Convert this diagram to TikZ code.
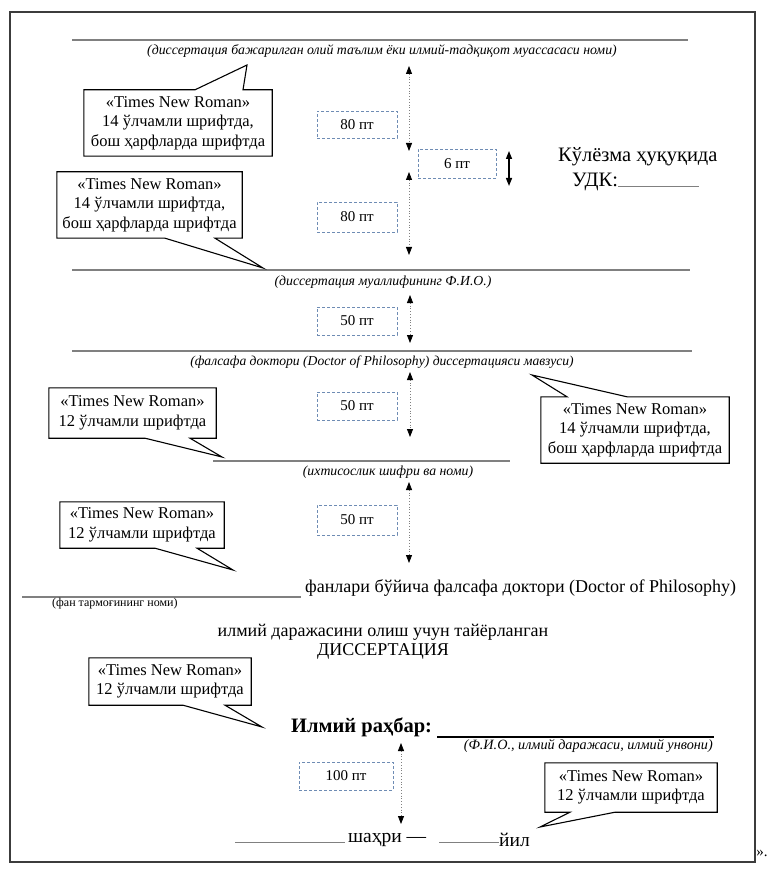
\documentclass[tikz,border=0pt]{standalone}
\usepackage{fontspec}
\setmainfont{Liberation Serif}
\usetikzlibrary{arrows.meta,calc}
\definecolor{rulegray}{RGB}{128,128,128}
\definecolor{dashblue}{RGB}{110,140,180}
\definecolor{framegray}{RGB}{60,60,60}
\begin{document}
\begin{tikzpicture}[x=1pt,y=-1pt,
  ctext/.style={align=center, inner sep=0pt, font=\fontsize{16.5}{19.5}\selectfont},
  coline/.style={draw=black, line width=1.1pt, line join=miter},
  dimbox/.style={draw=dashblue, dash pattern=on 3pt off 2pt, line width=0.9pt, inner sep=0pt, font=\fontsize{15}{18}\selectfont},
  dimarrow/.style={draw=rulegray, dotted, line width=0.8pt, {Triangle[width=6pt,length=8pt,color=black]}-{Triangle[width=6pt,length=8pt,color=black]}},
  rule/.style={draw=rulegray, line width=1.1pt},
  lab/.style={inner sep=0pt, font=\fontsize{13.8}{16}\selectfont\itshape},
  big/.style={inner sep=0pt, font=\fontsize{18}{22}\selectfont}
]
\useasboundingbox (0,0) rectangle (775,882);
% frame
\draw[framegray, line width=1.5pt] (10,12) rectangle (755,862);
\node[inner sep=0pt, font=\fontsize{15}{18}\selectfont] (quote) at (762,853) {».};

% rules and their labels
\coordinate (l1a) at (72,40); \coordinate (l1b) at (688,40);
\draw[rule] (l1a) -- (l1b);
\node[lab] (t1) at (382,51) {(диссертация бажарилган олий таълим ёки илмий-тадқиқот муассасаси номи)};
\coordinate (l2a) at (72,270); \coordinate (l2b) at (690,270);
\draw[rule] (l2a) -- (l2b);
\node[lab] (t2) at (383,282) {(диссертация муаллифининг Ф.И.О.)};
\coordinate (l3a) at (72,351); \coordinate (l3b) at (692,351);
\draw[rule] (l3a) -- (l3b);
\node[lab, font=\fontsize{13.6}{16}\selectfont\itshape] (t3) at (382,362) {(фалсафа доктори (Doctor of Philosophy) диссертацияси мавзуси)};
\coordinate (l4a) at (213,461); \coordinate (l4b) at (510,461);
\draw[rule] (l4a) -- (l4b);
\node[lab] (t4) at (388,472) {(ихтисослик шифри ва номи)};
\coordinate (l5a) at (22,597); \coordinate (l5b) at (301,597);
\draw[rule] (l5a) -- (l5b);
\node[inner sep=0pt, font=\fontsize{12}{14}\selectfont, anchor=west] (t5) at (52,604) {(фан тармоғининг номи)};

% right top text
\node[inner sep=0pt, font=\fontsize{20.5}{24}\selectfont, anchor=west] (kul) at (558,157) {Кўлёзма ҳуқуқида};
\node[inner sep=0pt, font=\fontsize{20.5}{24}\selectfont, anchor=west] (udk) at (572,182) {УДК:};
\coordinate (u1) at (udk.base east); \coordinate (u2) at (699,0 |- udk.base);
\draw[rule, line width=1pt] (u1) -- (u2);

% main texts
\node[big, anchor=west] (fan) at (305,588) {фанлари бўйича фалсафа доктори (Doctor of Philosophy)};
\node[big] (ilm) at (383,632) {илмий даражасини олиш учун тайёрланган};
\node[big] (dis) at (383,651) {ДИССЕРТАЦИЯ};
\node[inner sep=0pt, font=\fontsize{20.5}{24}\selectfont\bfseries, anchor=west] (rah) at (291,727) {Илмий раҳбар:};
\coordinate (r1) at (437,737); \coordinate (r2) at (714,737);
\draw[black, line width=1.2pt] (r1) -- (r2);
\node[lab, font=\fontsize{14.2}{16}\selectfont\itshape, anchor=east] (fio) at (713,746) {(Ф.И.О., илмий даражаси, илмий унвони)};
\node[big, font=\fontsize{19.5}{23}\selectfont, anchor=west] (shah) at (348,840) {шаҳри —};
\node[big, font=\fontsize{19.5}{23}\selectfont, anchor=west] (yil) at (499,840) {йил};
\coordinate (s1) at (235,0 |- shah.base); \coordinate (s2) at (345,0 |- shah.base);
\coordinate (s3) at (439,0 |- shah.base); \coordinate (s4) at (499,0 |- shah.base);
\draw[rule, line width=1pt] (s1) -- (s2);
\draw[rule, line width=1pt] (s3) -- (s4);

% dimension boxes
\node[dimbox, minimum width=80pt, minimum height=27pt] (b1) at (357,124.5) {80 пт};
\node[dimbox, minimum width=78pt, minimum height=29pt] (b2) at (457,163.5) {6 пт};
\node[dimbox, minimum width=80pt, minimum height=30pt] (b3) at (357,217) {80 пт};
\node[dimbox, minimum width=80pt, minimum height=28pt] (b4) at (357,321) {50 пт};
\node[dimbox, minimum width=80pt, minimum height=28pt] (b5) at (357,406) {50 пт};
\node[dimbox, minimum width=80pt, minimum height=30pt] (b6) at (357,520) {50 пт};
\node[dimbox, minimum width=94pt, minimum height=28pt] (b7) at (346,776) {100 пт};

% dimension arrows
\coordinate (d1a) at (409,66);  \coordinate (d1b) at (409,151);
\coordinate (d2a) at (409,172); \coordinate (d2b) at (409,255);
\coordinate (d3a) at (410,295); \coordinate (d3b) at (410,343);
\coordinate (d4a) at (410,372); \coordinate (d4b) at (410,437);
\coordinate (d5a) at (409,482); \coordinate (d5b) at (409,563);
\coordinate (d6a) at (401,743); \coordinate (d6b) at (401,824);
\draw[dimarrow] (d1a) -- (d1b);
\draw[dimarrow] (d2a) -- (d2b);
\draw[dimarrow] (d3a) -- (d3b);
\draw[dimarrow] (d4a) -- (d4b);
\draw[dimarrow] (d5a) -- (d5b);
\draw[dimarrow] (d6a) -- (d6b);
\coordinate (sa) at (509,151); \coordinate (sb) at (509,186);
\draw[black, line width=1.4pt, {Triangle[width=6pt,length=8pt]}-{Triangle[width=6pt,length=8pt]}] (sa) -- (sb);

% callouts
\node[ctext, minimum width=188pt, minimum height=66pt] (c1) at (178,123) {«Times New Roman»\\14 ўлчамли шрифтда,\\бош ҳарфларда шрифтда};
\coordinate (p1) at (247,65);
\draw[coline] (c1.south west) -- (c1.north west) -- (195,0 |- c1.north) -- (p1) -- (243,0 |- c1.north) -- (c1.north east) -- (c1.south east) -- cycle;

\node[ctext, minimum width=185pt, minimum height=66pt] (c2) at (149.5,205) {«Times New Roman»\\14 ўлчамли шрифтда,\\бош ҳарфларда шрифтда};
\coordinate (p2) at (263,268);
\draw[coline] (c2.north west) -- (c2.north east) -- (c2.south east) -- (215,0 |- c2.south) -- (p2) -- (165,0 |- c2.south) -- (c2.south west) -- cycle;

\node[ctext, minimum width=188pt, minimum height=66pt] (c3) at (635,430) {«Times New Roman»\\14 ўлчамли шрифтда,\\бош ҳарфларда шрифтда};
\coordinate (p3) at (532,375);
\draw[coline] (c3.south west) -- (c3.north west) -- (567,0 |- c3.north) -- (p3) -- (627,0 |- c3.north) -- (c3.north east) -- (c3.south east) -- cycle;

\node[ctext, minimum width=167pt, minimum height=50pt] (c4) at (132.5,413) {«Times New Roman»\\12 ўлчамли шрифтда};
\coordinate (p4) at (222,457);
\draw[coline] (c4.north west) -- (c4.north east) -- (c4.south east) -- (190,0 |- c4.south) -- (p4) -- (145,0 |- c4.south) -- (c4.south west) -- cycle;

\node[ctext, minimum width=164pt, minimum height=46pt] (c5) at (142,525) {«Times New Roman»\\12 ўлчамли шрифтда};
\coordinate (p5) at (233,570);
\draw[coline] (c5.north west) -- (c5.north east) -- (c5.south east) -- (197,0 |- c5.south) -- (p5) -- (155,0 |- c5.south) -- (c5.south west) -- cycle;

\node[ctext, minimum width=162pt, minimum height=47pt] (c6) at (170,681.5) {«Times New Roman»\\12 ўлчамли шрифтда};
\coordinate (p6) at (262,727);
\draw[coline] (c6.north west) -- (c6.north east) -- (c6.south east) -- (225,0 |- c6.south) -- (p6) -- (183,0 |- c6.south) -- (c6.south west) -- cycle;

\node[ctext, minimum width=172pt, minimum height=49pt] (c7) at (631,787.5) {«Times New Roman»\\12 ўлчамли шрифтда};
\coordinate (p7) at (540,827);
\draw[coline] (c7.north west) -- (c7.north east) -- (c7.south east) -- (615,0 |- c7.south) -- (p7) -- (570,0 |- c7.south) -- (c7.south west) -- cycle;
\end{tikzpicture}
\end{document}
